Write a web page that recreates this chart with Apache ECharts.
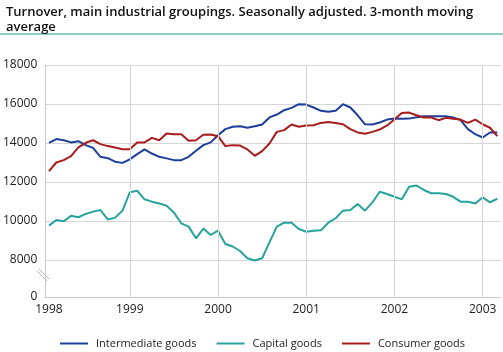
<!DOCTYPE html>
<html lang="en">
<head>
    <meta charset="UTF-8">
    <title>Turnover, main industrial groupings</title>
    <script src="https://cdn.jsdelivr.net/npm/echarts@6/dist/echarts.min.js"></script>
    <style>
        html, body { margin: 0; padding: 0; background: #fff; }
        #container { width: 503px; height: 352px; }
    </style>
</head>
<body>
<div id="container"></div>
<script type="text/javascript">
    // months Feb 1998 - Mar 2003, 3-month moving average
    let months = [];
    for (let y = 1998; y <= 2003; y++) {
        for (let m = 1; m <= 12; m++) {
            if (y === 1998 && m < 2) continue;
            if (y === 2003 && m > 3) continue;
            months.push(y + '-' + (m < 10 ? '0' + m : m));
        }
    }

    let intermediate = [
        14010, 14200, 14140, 14030, 14090, 13890, 13750, 13290, 13220, 13040, 12980,
        13160, 13430, 13670, 13460, 13290, 13210, 13120, 13120, 13290, 13600, 13890,
        14030, 14400, 14710, 14830, 14860, 14780, 14860, 14950, 15310, 15460, 15680, 15800, 15990,
        15970, 15820, 15650, 15600, 15650, 15990, 15820, 15420, 14960, 14950, 15050, 15200,
        15250, 15240, 15250, 15320, 15370, 15370, 15370, 15370, 15310, 15170, 14710, 14450, 14280,
        14540, 14540
    ];
    let capital = [
        9760, 10050, 9980, 10270, 10190, 10360, 10480, 10560, 10080, 10170, 10530,
        11470, 11550, 11110, 10990, 10900, 10780, 10430, 9880, 9710, 9110, 9610,
        9280, 9500, 8820, 8690, 8460, 8090, 7970, 8090, 8900, 9710, 9910, 9910, 9590,
        9450, 9500, 9520, 9910, 10140, 10530, 10560, 10870, 10530, 10950, 11500, 11380,
        11240, 11110, 11760, 11820, 11590, 11420, 11420, 11380, 11240, 10990, 10990, 10900, 11210,
        10950, 11140
    ];
    let consumer = [
        12560, 13000, 13120, 13330, 13770, 14010, 14140, 13940, 13840, 13770, 13680,
        13680, 14030, 14030, 14260, 14140, 14490, 14450, 14450, 14110, 14140, 14420,
        14440, 14350, 13840, 13890, 13870, 13670, 13340, 13580, 13970, 14570, 14660, 14950, 14830,
        14900, 14910, 15030, 15080, 15030, 14960, 14710, 14540, 14470, 14570, 14690, 14900,
        15200, 15540, 15560, 15420, 15310, 15310, 15170, 15290, 15240, 15200, 15030, 15200, 14960,
        14780, 14350
    ];

    let yearLines = ['1999-01', '2000-01', '2001-01', '2002-01', '2003-01'];
    // the value axis is broken below 8000: the bottom of the axis stands for 0
    let axisBottom = 6100;
    let yTicks = [axisBottom, 8000, 10000, 12000, 14000, 16000, 18000];

    let gridColor = '#d6d6d6';
    let fontFamily = 'Open Sans';

    let myChart = echarts.init(document.getElementById('container'));
    let option = {
        animation: false,
        color: ['#1d3f9a', '#26a39d', '#a81c1c'],
        textStyle: { fontFamily: fontFamily },
        title: {
            text: 'Turnover, main industrial groupings. Seasonally adjusted. 3-month moving\naverage',
            left: 1,
            top: 0,
            textStyle: {
                fontFamily: fontFamily,
                fontSize: 13,
                fontWeight: 600,
                color: '#111',
                lineHeight: 15
            }
        },
        legend: {
            data: ['Intermediate goods', 'Capital goods', 'Consumer goods'],
            left: 55,
            top: 333,
            icon: 'rect',
            itemWidth: 28,
            itemHeight: 2,
            itemGap: 20,
            textStyle: { fontSize: 11, color: '#222', fontFamily: fontFamily, padding: [0, 0, 0, 3] }
        },
        grid: {
            left: 44,
            right: 2,
            top: 65,
            bottom: 55
        },
        xAxis: {
            type: 'category',
            data: months,
            boundaryGap: true,
            axisLine: { lineStyle: { color: '#c8c8c8' } },
            axisTick: {
                alignWithLabel: true,
                interval: 0,
                inside: true,
                length: 4,
                lineStyle: { color: '#c8c8c8' }
            },
            axisLabel: {
                interval: function (idx, val) { return idx === 0 || val.slice(5) === '01'; },
                formatter: function (val) { return val.slice(0, 4); },
                fontSize: 12,
                color: '#222',
                margin: 7
            },
            splitLine: { show: false }
        },
        yAxis: {
            type: 'value',
            min: axisBottom,
            max: 18000,
            axisLine: { show: true, lineStyle: { color: '#c8c8c8' } },
            axisTick: { show: false, customValues: yTicks },
            axisLabel: {
                customValues: yTicks,
                formatter: function (v) { return v === axisBottom ? '0' : String(v); },
                fontSize: 12,
                color: '#222',
                margin: 8
            },
            splitLine: { lineStyle: { color: gridColor } }
        },
        series: [
            {
                name: 'Intermediate goods',
                type: 'line',
                data: intermediate,
                showSymbol: false,
                lineStyle: { width: 2 },
                z: 3
            },
            {
                name: 'Capital goods',
                type: 'line',
                data: capital,
                showSymbol: false,
                lineStyle: { width: 2 },
                z: 3
            },
            {
                name: 'Consumer goods',
                type: 'line',
                data: consumer,
                showSymbol: false,
                lineStyle: { width: 2 },
                z: 3
            },
            {
                // yearly vertical grid lines
                name: 'years',
                type: 'line',
                data: [],
                z: 1,
                markLine: {
                    silent: true,
                    symbol: 'none',
                    label: { show: false },
                    lineStyle: { color: gridColor, type: 'solid', width: 1 },
                    data: yearLines.map(function (m) { return { xAxis: m }; })
                }
            }
        ],
        graphic: [
            {
                // teal rule under the title
                type: 'rect',
                shape: { x: 0, y: 33, width: 503, height: 2 },
                style: { fill: '#8dcccc' }
            },
            {
                // axis break marks
                type: 'line',
                shape: { x1: 37, y1: 271, x2: 47, y2: 281 },
                style: { stroke: '#b8b8b8', lineWidth: 1 }
            },
            {
                type: 'line',
                shape: { x1: 39, y1: 269, x2: 49, y2: 279 },
                style: { stroke: '#b8b8b8', lineWidth: 1 }
            }
        ]
    };
    myChart.setOption(option);
</script>
</body>
</html>
